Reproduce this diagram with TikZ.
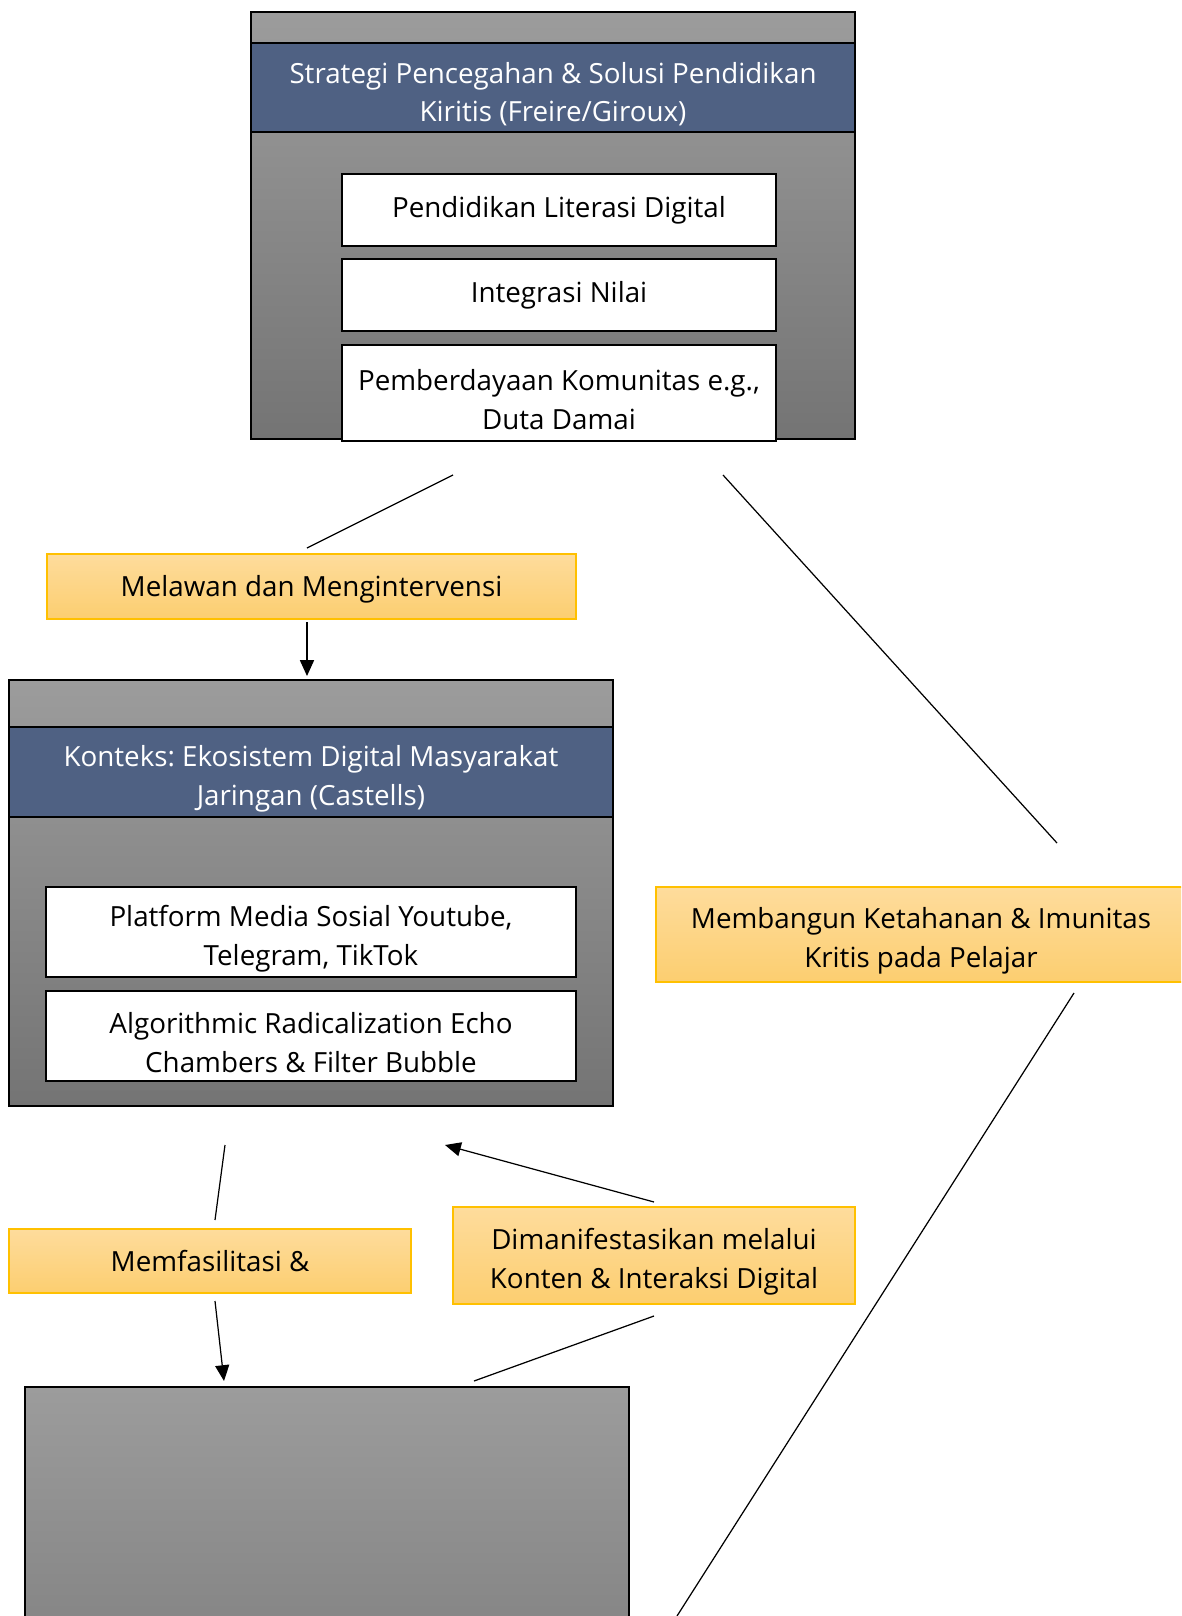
\documentclass[tikz,border=0pt]{standalone}
\usepackage{fontspec}
\setmainfont{Open Sans}
\usepackage{tikz}
\usetikzlibrary{arrows.meta}
\definecolor{bandblue}{HTML}{4F6183}
\definecolor{boxtop}{HTML}{9C9C9C}
\definecolor{boxbot}{HTML}{747474}
\definecolor{labtop}{HTML}{FEDC9C}
\definecolor{labbot}{HTML}{FCCE70}
\definecolor{labline}{HTML}{FFC000}
\newcommand{\lift}{\rule{0pt}{19.5pt}}
\frenchspacing

\begin{document}
\begin{tikzpicture}[x=0.02cm, y=-0.02cm,
    font=\fontsize{15.8}{22}\selectfont,
    every node/.style={inner sep=0pt, outer sep=0pt, align=center},
    outerbox/.style={draw=black, line width=1.1pt, top color=boxtop, bottom color=boxbot, minimum width=12.08cm},
    bandbox/.style={draw=black, line width=1.1pt, fill=bandblue, text=white, minimum width=12.08cm},
    itembox/.style={draw=black, line width=1.2pt, fill=white},
    labelbox/.style={draw=labline, line width=0.8pt, top color=labtop, bottom color=labbot},
    conn/.style={line width=0.7pt},
    arr/.style={line width=0.7pt, -{Triangle[length=9pt,width=8pt]}}]
    \useasboundingbox (0,0) rectangle (1181,1616);
    \clip (0,0) rectangle (1181,1616);
    % strategi
    \node[outerbox, minimum height=8.54cm] (strat) at (553,225.5) {};
    \node[bandbox, minimum height=1.78cm] (stratband) at (553,87.5) {\lift Strategi Pencegahan \& Solusi Pendidikan\\Kiritis (Freire/Giroux)};
    \node[itembox, minimum width=8.68cm, minimum height=1.44cm] (literasi) at (559,210) {Pendidikan Literasi Digital};
    \node[itembox, minimum width=8.68cm, minimum height=1.44cm] (nilai) at (559,295) {Integrasi Nilai};
    \node[itembox, minimum width=8.68cm, minimum height=1.92cm] (komunitas) at (559,393) {\lift Pemberdayaan Komunitas e.g.,\\Duta Damai};
    % konteks
    \node[outerbox, minimum height=8.52cm] (konteks) at (311,893) {};
    \node[bandbox, minimum height=1.8cm] (konteksband) at (311,772) {\lift Konteks: Ekosistem Digital Masyarakat\\Jaringan (Castells)};
    \node[itembox, minimum width=10.6cm, minimum height=1.8cm] (platform) at (311,932) {\lift Platform Media Sosial Youtube,\\Telegram, TikTok};
    \node[itembox, minimum width=10.6cm, minimum height=1.8cm] (algo) at (311,1036) {\lift Algorithmic Radicalization Echo\\Chambers \& Filter Bubble};
    % bawah
    \node[draw=black, line width=1.1pt, top color=boxtop, bottom color=boxbot, minimum width=12.08cm, minimum height=8.52cm] (bawah) at (327,1600) {};
    % label
    \node[labelbox, minimum width=10.58cm, minimum height=1.3cm] (melawan) at (311.5,586.5) {\rule{0pt}{15pt}Melawan dan Mengintervensi};
    \node[labelbox, minimum width=10.6cm, minimum height=1.9cm] (membangun) at (921,934.5) {\lift Membangun Ketahanan \& Imunitas\\Kritis pada Pelajar};
    \node[labelbox, minimum width=8.04cm, minimum height=1.28cm] (memfasilitasi) at (210,1261) {Memfasilitasi \&};
    \node[labelbox, minimum width=8.04cm, minimum height=1.94cm] (manifes) at (654,1255.5) {\lift Dimanifestasikan melalui\\Konten \& Interaksi Digital};
    % ujung garis
    \coordinate (p1) at (453,475);
    \coordinate (p2) at (307,548);
    \coordinate (p3) at (307,622);
    \coordinate (p4) at (307,676);
    \coordinate (p5) at (723,475);
    \coordinate (p6) at (1057,843);
    \coordinate (p7) at (1074,993);
    \coordinate (p8) at (677,1616);
    \coordinate (p9) at (225,1145);
    \coordinate (p10) at (215,1220);
    \coordinate (p11) at (215,1301);
    \coordinate (p12) at (224,1381);
    \coordinate (p13) at (654,1202);
    \coordinate (p14) at (445,1145);
    \coordinate (p15) at (654,1316);
    \coordinate (p16) at (474,1381);
    \draw[conn] (p1) -- (p2);
    \draw[arr] (p3) -- (p4);
    \draw[conn] (p5) -- (p6);
    \draw[conn] (p7) -- (p8);
    \draw[conn] (p9) -- (p10);
    \draw[arr] (p11) -- (p12);
    \draw[arr] (p13) -- (p14);
    \draw[conn] (p15) -- (p16);
\end{tikzpicture}
\end{document}
